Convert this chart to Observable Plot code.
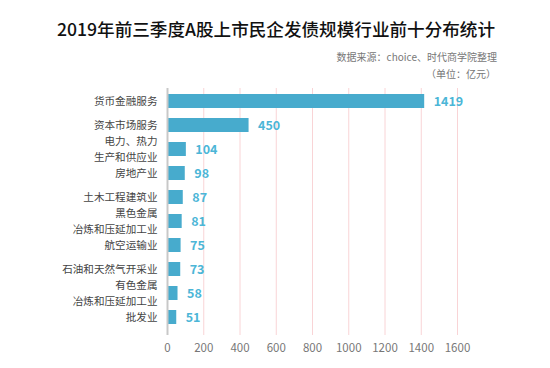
<!DOCTYPE html>
<html>
<head>
<meta charset="utf-8">
<script src="https://cdn.jsdelivr.net/npm/d3@7"></script>
<script src="https://cdn.jsdelivr.net/npm/@observablehq/plot@0.6"></script>
<style>
  html, body { margin: 0; padding: 0; background: #fff; }
  body { width: 550px; height: 368px; position: relative; overflow: hidden;
         font-family: "Noto Sans CJK SC", "Noto Sans", sans-serif; }
  #title { position: absolute; left: 0; width: 552px; top: 17px; text-align: center;
           font-size: 17.6px; font-weight: 500; color: #111; line-height: 24px; white-space: nowrap; }
  .sub { position: absolute; right: 53px; font-size: 10px; color: #777; line-height: 14px; white-space: nowrap; }
  #sub1 { top: 50px; }
  #sub2 { top: 67px; right: 54px; }
  #chart { position: absolute; left: 0; top: 84px; }
</style>
</head>
<body>
<div id="title">2019年前三季度A股上市民企发债规模行业前十分布统计</div>
<div class="sub" id="sub1">数据来源：choice、时代商学院整理</div>
<div class="sub" id="sub2">（单位：亿元）</div>
<div id="chart"></div>
<script>
const industries = [
  "货币金融服务",
  "资本市场服务",
  "电力、热力\n生产和供应业",
  "房地产业",
  "土木工程建筑业",
  "黑色金属\n冶炼和压延加工业",
  "航空运输业",
  "石油和天然气开采业",
  "有色金属\n冶炼和压延加工业",
  "批发业"
];
const amounts = [1419, 450, 104, 98, 87, 81, 75, 73, 58, 51];
const xTicks = [0, 200, 400, 600, 800, 1000, 1200, 1400, 1600];

const data = industries.map((name, i) => ({name, value: amounts[i]}));

const chart = Plot.plot({
  width: 550,
  height: 284,
  marginTop: 4,
  marginBottom: 33,
  marginLeft: 167,
  marginRight: 93,
  style: {fontFamily: '"Noto Sans CJK SC", "Noto Sans", sans-serif', background: "#fff"},
  x: {domain: [0, 1600], label: null},
  y: {domain: industries, paddingInner: 0.4, paddingOuter: 0.13, insetBottom: 4.5, label: null},
  marks: [
    Plot.ruleX(xTicks.filter(d => d > 0), {stroke: "#f9d4d6", strokeWidth: 1}),
    Plot.barX(data, {x: "value", y: "name", fill: "#47abcd"}),
    Plot.ruleX([0], {stroke: "#c8c8c8", strokeWidth: 2}),
    Plot.text(data, {x: "value", y: "name", text: d => String(d.value), textAnchor: "start", dx: 9,
      fill: "#4cb6d7", fontSize: 12.5, fontWeight: 600}),
    Plot.axisX({ticks: xTicks, tickFormat: d => String(d), tickSize: 0, tickPadding: 8, fontSize: 11.5, color: "#777", label: null}),
    Plot.axisY({tickSize: 0, tickPadding: 10, fontSize: 10.6, color: "#444", label: null, lineHeight: 1.5, lineAnchor: "middle", dy: -1.5})
  ]
});
document.getElementById("chart").appendChild(chart);
</script>
</body>
</html>
